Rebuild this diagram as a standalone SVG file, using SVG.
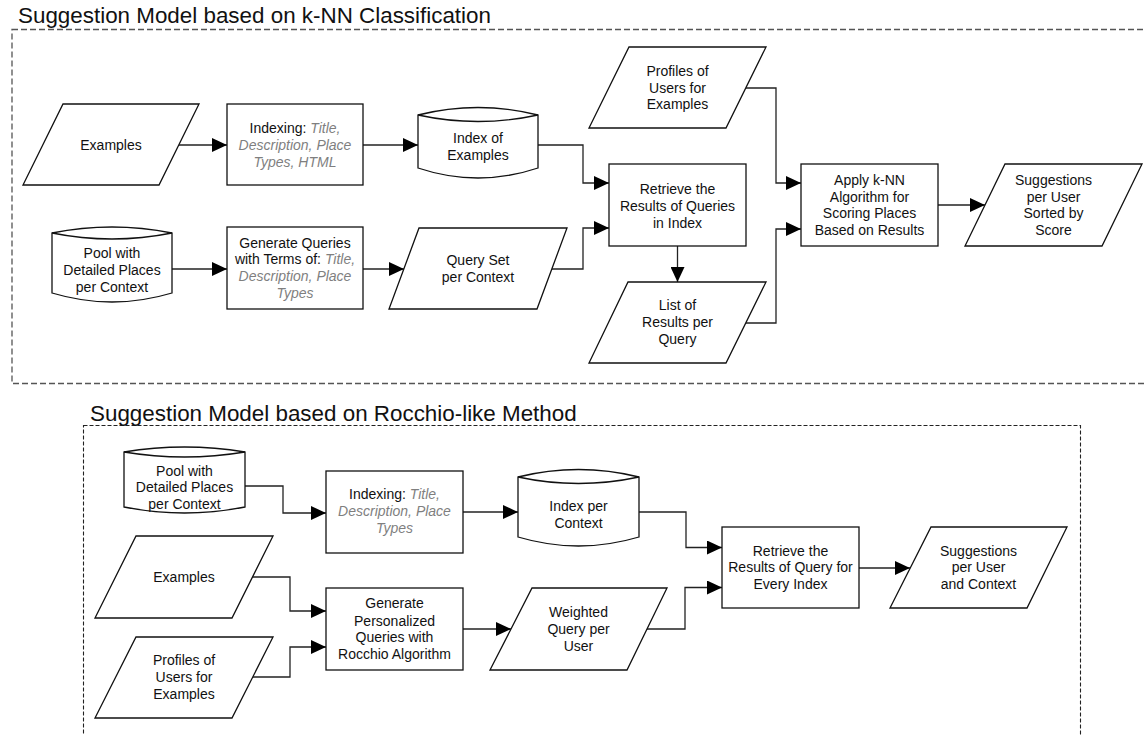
<svg xmlns="http://www.w3.org/2000/svg" width="1145" height="735" viewBox="0 0 1145 735">
<style>
.t{font-family:"Liberation Sans",Arial,sans-serif;font-size:14px;fill:#111;text-anchor:middle}
.i{font-style:italic;fill:#7f7f7f}
.title{font-family:"Liberation Sans",Arial,sans-serif;font-size:22.4px;fill:#111}
.s{fill:#fff;stroke:#111;stroke-width:1.3}
.c{fill:none;stroke:#222;stroke-width:1.3;marker-end:url(#ah)}
.f1{fill:none;stroke:#555;stroke-width:1.3;stroke-dasharray:6 3}
.f2{fill:none;stroke:#222;stroke-width:1.1;stroke-dasharray:4 2}
</style>
<defs>
<marker id="ah" markerUnits="userSpaceOnUse" markerWidth="15" markerHeight="14" refX="15" refY="7" orient="auto">
<path d="M0,0 L15,7 L0,14 Z" fill="#000"/>
</marker>
</defs>
<rect width="1145" height="735" fill="#fff"/>

<g id="frame-knn">
<rect class="f1" x="12" y="29.5" width="1145" height="354"/>
<text class="title" x="18" y="23">Suggestion Model based on k-NN Classification</text>
</g>
<g id="frame-rocchio">
<rect class="f2" x="83.5" y="425.5" width="997" height="330"/>
<text class="title" x="90" y="421">Suggestion Model based on Rocchio-like Method</text>
</g>

<g id="connectors">
<path class="c" d="M179,145 H227"/>
<path class="c" d="M363,145 H418"/>
<path class="c" d="M538,145 H583 V183 H609"/>
<path class="c" d="M172,269 H227"/>
<path class="c" d="M363,269 H404"/>
<path class="c" d="M552,269 H583 V228 H609"/>
<path class="c" d="M677.5,246 V282"/>
<path class="c" d="M746,88 H776 V183 H801"/>
<path class="c" d="M746,323 H776 V229 H801"/>
<path class="c" d="M938,205 H985"/>
<path class="c" d="M245,486 H283 V513 H326"/>
<path class="c" d="M463,512 H518"/>
<path class="c" d="M639,512 H686 V547.5 H722"/>
<path class="c" d="M252,577 H290 V611 H326"/>
<path class="c" d="M253,677 H290 V647 H326"/>
<path class="c" d="M463,629 H511"/>
<path class="c" d="M647,629 H685 V587.5 H722"/>
<path class="c" d="M859,568 H910"/>
</g>

<g id="examples-top">
<polygon class="s" points="63,104 199,104 159,185 23,185"/>
<text class="t" x="111" y="150">Examples</text>
</g>
<g id="indexing-top">
<rect class="s" x="227" y="104" width="136" height="81"/>
<text class="t" x="295" y="132.7"><tspan fill="#111">Indexing: </tspan><tspan class="i">Title,</tspan></text>
<text class="t i" x="295" y="150">Description, Place</text>
<text class="t i" x="295" y="167">Types, HTML</text>
</g>
<g id="index-of-examples">
<path class="s" d="M418,115 Q478,100 538,115 V168 Q478,188 418,168 Z"/>
<path class="s" fill="none" d="M418,115 Q478,128 538,115"/>
<text class="t" x="478" y="143">Index of</text>
<text class="t" x="478" y="160">Examples</text>
</g>
<g id="profiles-top">
<polygon class="s" points="629,47 766,47 726,128 589,128"/>
<text class="t" x="677.5" y="76">Profiles of</text>
<text class="t" x="677.5" y="92.7">Users for</text>
<text class="t" x="677.5" y="109.3">Examples</text>
</g>
<g id="retrieve-top">
<rect class="s" x="609" y="164" width="137" height="82"/>
<text class="t" x="677.5" y="193.5">Retrieve the</text>
<text class="t" x="677.5" y="210.5">Results of Queries</text>
<text class="t" x="677.5" y="227.5">in Index</text>
</g>
<g id="apply-knn">
<rect class="s" x="801" y="164" width="137" height="82"/>
<text class="t" x="869.5" y="185">Apply k-NN</text>
<text class="t" x="869.5" y="201.7">Algorithm for</text>
<text class="t" x="869.5" y="218.3">Scoring Places</text>
<text class="t" x="869.5" y="235">Based on Results</text>
</g>
<g id="suggestions-top">
<polygon class="s" points="1005,164 1142,164 1102,246 965,246"/>
<text class="t" x="1053.5" y="185">Suggestions</text>
<text class="t" x="1053.5" y="201.7">per User</text>
<text class="t" x="1053.5" y="218.3">Sorted by</text>
<text class="t" x="1053.5" y="235">Score</text>
</g>
<g id="pool-top">
<path class="s" d="M52,233 Q112,221 172,233 V293 Q112,311 52,293 Z"/>
<path class="s" fill="none" d="M52,233 Q112,245 172,233"/>
<text class="t" x="112" y="258.3">Pool with</text>
<text class="t" x="112" y="275">Detailed Places</text>
<text class="t" x="112" y="292.3">per Context</text>
</g>
<g id="generate-queries">
<rect class="s" x="227" y="227" width="136" height="82"/>
<text class="t" x="295" y="247.7">Generate Queries</text>
<text class="t" x="295" y="264.3"><tspan fill="#111">with Terms of: </tspan><tspan class="i">Title,</tspan></text>
<text class="t i" x="295" y="281">Description, Place</text>
<text class="t i" x="295" y="298">Types</text>
</g>
<g id="query-set">
<polygon class="s" points="419,228 567,228 537,309 389,309"/>
<text class="t" x="478" y="265">Query Set</text>
<text class="t" x="478" y="281.7">per Context</text>
</g>
<g id="list-of-results">
<polygon class="s" points="628,282 766,282 726,363 589,363"/>
<text class="t" x="677.5" y="310">List of</text>
<text class="t" x="677.5" y="327">Results per</text>
<text class="t" x="677.5" y="344">Query</text>
</g>

<g id="pool-bottom">
<path class="s" d="M124,452 Q184.5,442 245,452 V507 Q184.5,519 124,507 Z"/>
<path class="s" fill="none" d="M124,452 Q184.5,462 245,452"/>
<text class="t" x="184.5" y="475.7">Pool with</text>
<text class="t" x="184.5" y="492.3">Detailed Places</text>
<text class="t" x="184.5" y="509">per Context</text>
</g>
<g id="indexing-bottom">
<rect class="s" x="326" y="471" width="137" height="82"/>
<text class="t" x="394.5" y="499.3"><tspan fill="#111">Indexing: </tspan><tspan class="i">Title,</tspan></text>
<text class="t i" x="394.5" y="516">Description, Place</text>
<text class="t i" x="394.5" y="532.7">Types</text>
</g>
<g id="index-per-context">
<path class="s" d="M518,477 Q578.5,462 639,477 V537 Q578.5,555 518,537 Z"/>
<path class="s" fill="none" d="M518,477 Q578.5,490 639,477"/>
<text class="t" x="578.5" y="511">Index per</text>
<text class="t" x="578.5" y="527.7">Context</text>
</g>
<g id="retrieve-bottom">
<rect class="s" x="722" y="527" width="137" height="81"/>
<text class="t" x="790.5" y="555.7">Retrieve the</text>
<text class="t" x="790.5" y="572.3">Results of Query for</text>
<text class="t" x="790.5" y="589">Every Index</text>
</g>
<g id="suggestions-bottom">
<polygon class="s" points="931,527 1067,527 1027,608 890,608"/>
<text class="t" x="978.5" y="555.7">Suggestions</text>
<text class="t" x="978.5" y="572.3">per User</text>
<text class="t" x="978.5" y="589">and Context</text>
</g>
<g id="examples-bottom">
<polygon class="s" points="136,536 273,536 232,618 95,618"/>
<text class="t" x="184" y="581.7">Examples</text>
</g>
<g id="profiles-bottom">
<polygon class="s" points="136,637 273,637 232,718 95,718"/>
<text class="t" x="184" y="665">Profiles of</text>
<text class="t" x="184" y="682.3">Users for</text>
<text class="t" x="184" y="699">Examples</text>
</g>
<g id="generate-personalized">
<rect class="s" x="326" y="588" width="137" height="82"/>
<text class="t" x="394.5" y="608.3">Generate</text>
<text class="t" x="394.5" y="625.7">Personalized</text>
<text class="t" x="394.5" y="642.3">Queries with</text>
<text class="t" x="394.5" y="659.3">Rocchio Algorithm</text>
</g>
<g id="weighted-query">
<polygon class="s" points="532,588 667,588 627,670 490,670"/>
<text class="t" x="578.5" y="617.3">Weighted</text>
<text class="t" x="578.5" y="634.3">Query per</text>
<text class="t" x="578.5" y="650.7">User</text>
</g>
</svg>
